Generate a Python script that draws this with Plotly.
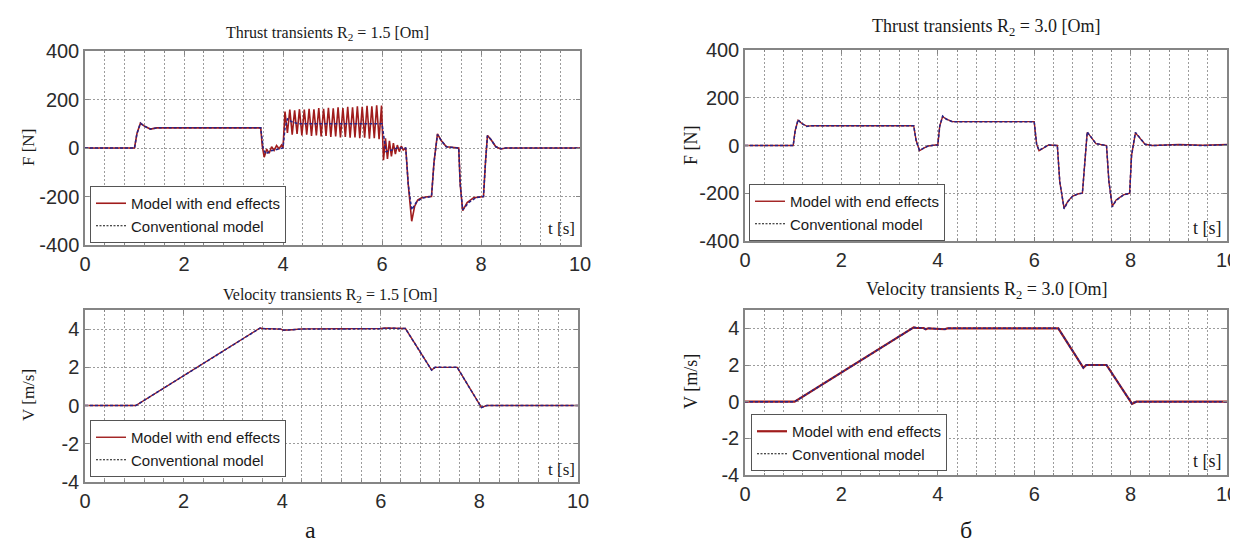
import plotly.graph_objects as go

# ---------------- data ----------------
x_ticks = [0, 2, 4, 6, 8, 10]
F_ticks = [-400, -200, 0, 200, 400]
F_tick_text = ["-400", "-200", "0", "200", "400"]
V_ticks = [-4, -2, 0, 2, 4]
V_tick_text = ["-4", "-2", "0", "2", "4"]

# Thrust, R2 = 1.5 Ohm  -- conventional model
t_F15_conv = [0, 1.0, 1.05, 1.12, 1.2, 1.32, 1.45, 3.55, 3.6, 3.65, 3.75, 3.9, 4.0, 4.04, 4.09,
              4.18, 4.3, 6.0, 6.04, 6.08, 6.2, 6.3, 6.48, 6.53, 6.6, 6.7, 6.8, 6.95, 7.0, 7.05, 7.12,
              7.2, 7.3, 7.55, 7.58, 7.63, 7.75, 7.9, 8.05, 8.09, 8.13, 8.2, 8.3, 8.4, 8.5, 10]
F15_conv = [0, 0, 60, 102, 90, 78, 83, 83, 0, -25, -12, -3, 0, 80, 120,
            108, 100, 100, 30, -15, -8, 0, 0, -150, -255, -222, -207, -200, -200, -60, 55,
            30, 5, 0, -150, -255, -225, -205, -200, -60, 50, 35, 5, -3, 0, 0]

# Thrust, R2 = 1.5 Ohm  -- model with end effects
t_F15_end = [0, 1.0, 1.05, 1.12, 1.2, 1.32, 1.45, 3.55, 3.58, 3.62, 3.67, 3.72, 3.77, 3.82, 3.87,
             3.92, 3.97, 4.0,
             4.040, 4.089, 4.1375, 4.186, 4.235, 4.284, 4.3325, 4.381, 4.430, 4.479, 4.5275,
             4.576, 4.625, 4.674, 4.7225, 4.771, 4.820, 4.869, 4.9175, 4.966, 5.015, 5.064,
             5.1125, 5.161, 5.210, 5.259, 5.3075, 5.356, 5.405, 5.454, 5.5025, 5.551, 5.600,
             5.649, 5.6975, 5.746, 5.795, 5.844, 5.8925, 5.941, 5.990,
             6.03, 6.07, 6.11, 6.15, 6.19, 6.23, 6.27, 6.31, 6.35, 6.39, 6.43, 6.48,
             6.53, 6.6, 6.66, 6.72, 6.8, 6.95, 7.0, 7.05, 7.12, 7.2, 7.3, 7.55, 7.58, 7.63, 7.72,
             7.85, 8.05, 8.09, 8.13, 8.2, 8.3, 8.4, 8.5, 10]
F15_end = [0, 0, 60, 103, 90, 78, 83, 83, 10, -38, -5, -22, 5, -10, 10,
           -3, 12, 0,
           150, 62, 158, 55, 155, 58, 160, 52, 158, 55, 162,
           50, 160, 52, 165, 48, 162, 50, 166, 46, 164, 48,
           168, 44, 165, 46, 170, 42, 168, 44, 172, 40, 170,
           42, 174, 38, 172, 40, 176, 36, 175,
           -50, 40, -45, 30, -35, 20, -25, 12, -15, 8, -8, 0,
           -150, -302, -240, -215, -205, -200, -200, -60, 58, 30, 5, 0, -150, -258, -225,
           -205, -200, -60, 52, 35, 5, -4, 0, 0]

# Thrust, R2 = 3.0 Ohm  -- conventional model
t_F30_conv = [0, 1.0, 1.04, 1.1, 1.18, 1.28, 1.4, 3.5, 3.55, 3.62, 3.7, 3.8, 3.95, 4.0, 4.04,
              4.1, 4.18, 4.3, 6.0, 6.05, 6.1, 6.2, 6.3, 6.48, 6.53, 6.62, 6.7, 6.8, 6.92, 7.0,
              7.05, 7.1, 7.18, 7.28, 7.5, 7.55, 7.62, 7.7, 7.85, 7.98, 8.02, 8.1, 8.18, 8.3,
              8.45, 9.0, 9.5, 10]
F30_conv = [0, 0, 60, 108, 92, 80, 83, 83, 20, -20, -12, -2, 2, 2, 80,
            123, 110, 100, 100, 5, -20, -10, 2, 0, -150, -265, -235, -212, -202, -200,
            -60, 57, 35, 8, 0, -150, -257, -230, -208, -200, -40, 55, 35, 5,
            0, 3, 0, 3]

# Thrust, R2 = 3.0 Ohm  -- model with end effects
t_F30_end = [0, 1.0, 1.04, 1.1, 1.18, 1.28, 1.4, 3.5, 3.55, 3.62, 3.7, 3.8, 3.95, 4.0, 4.04,
             4.1, 4.18, 4.3, 6.0, 6.05, 6.1, 6.2, 6.3, 6.48, 6.53, 6.62, 6.7, 6.8, 6.92, 7.0,
             7.05, 7.1, 7.18, 7.28, 7.5, 7.55, 7.62, 7.7, 7.85, 7.98, 8.02, 8.1, 8.18, 8.3,
             8.45, 9.0, 9.5, 10]
F30_end = [0, 0, 62, 106, 92, 81, 83, 83, 22, -22, -12, -2, 2, 2, 82,
           121, 110, 100, 100, 6, -22, -10, 2, 0, -152, -262, -233, -212, -202, -200,
           -58, 55, 35, 8, 0, -152, -255, -228, -207, -200, -42, 53, 34, 5,
           0, 4, 1, 4]

# Velocity, R2 = 1.5 Ohm
t_V15_conv = [0, 1.03, 3.55, 3.6, 3.98, 4.02, 4.2, 4.4, 6.0, 6.1, 6.5, 7.03, 7.1, 7.55, 8.04, 8.15, 10]
V15_conv = [0, 0, 4.05, 4.03, 4.0, 3.95, 3.97, 4.0, 4.02, 4.05, 4.03, 1.85, 2.0, 2.0, -0.1, 0, 0]
t_V15_end = [0, 1.03, 3.55, 3.6, 3.98, 4.02, 4.2, 4.4, 6.0, 6.1, 6.5, 7.03, 7.1, 7.55, 8.04, 8.15, 10]
V15_end = [0, 0, 4.06, 4.03, 4.0, 3.94, 3.97, 4.01, 4.03, 4.06, 4.03, 1.86, 2.0, 2.0, -0.1, 0, 0]

# Velocity, R2 = 3.0 Ohm
t_V30_conv = [0, 1.03, 3.5, 3.55, 3.7, 3.75, 3.8, 4.0, 4.08, 4.15, 4.2, 6.5, 7.02, 7.08, 7.5, 8.03, 8.12, 10]
V30_conv = [0, 0, 4.05, 4.03, 4.02, 3.95, 4.0, 3.98, 3.94, 3.95, 4.0, 4.0, 1.85, 2.0, 2.0, -0.12, 0, 0]
t_V30_end = [0, 1.03, 3.5, 3.55, 3.7, 3.75, 3.8, 4.0, 4.08, 4.15, 4.2, 6.5, 7.02, 7.08, 7.5, 8.03, 8.12, 10]
V30_end = [0, 0, 4.05, 4.03, 4.02, 3.95, 4.0, 3.98, 3.94, 3.95, 4.0, 4.0, 1.85, 2.0, 2.0, -0.12, 0, 0]

name_end = "Model with end effects"
name_conv = "Conventional model"

# ---------------- styling ----------------
W, H = 1238, 548
def fx(x):
    return x / W
def fy(y):
    return 1 - y / H

RED = "#a01c1c"
BLUE = "#24248a"
FRAME = "#858585"
GRID = "#9c9c9c"
TICKFONT = dict(family="Liberation Sans", size=20, color="#2b2b2b")
SERIF = "Liberation Serif"

fig = go.Figure()

panels = [
    # (suffix, xdom px, ydom px, t_end, y_end, t_conv, y_conv, legend, red width)
    ("", (77, 572), (43, 237), t_F15_end, F15_end, t_F15_conv, F15_conv, "legend", 1.6),
    ("2", (737, 1219), (42, 233), t_F30_end, F30_end, t_F30_conv, F30_conv, "legend2", 1.4),
    ("3", (77, 570), (302, 474), t_V15_end, V15_end, t_V15_conv, V15_conv, "legend3", 1.4),
    ("4", (737, 1219), (302, 467), t_V30_end, V30_end, t_V30_conv, V30_conv, "legend4", 2.2),
]

for i, (s, xd, yd, te, ye, tc, yc, lg, rw) in enumerate(panels):
    xa = "x" + s
    ya = "y" + s
    fig.add_trace(go.Scatter(x=te, y=ye, mode="lines", line=dict(color=RED, width=rw),
                             name=name_end, xaxis=xa, yaxis=ya, legend=lg, showlegend=False))
    fig.add_trace(go.Scatter(x=tc, y=yc, mode="lines",
                             line=dict(color=BLUE, width=1.5, dash="3px,2px"),
                             name=name_conv, xaxis=xa, yaxis=ya, legend=lg, showlegend=False))
    # legend samples
    fig.add_trace(go.Scatter(x=[None], y=[None], mode="lines", line=dict(color=RED, width=rw),
                             name=name_end, xaxis=xa, yaxis=ya, legend=lg, showlegend=True))
    fig.add_trace(go.Scatter(x=[None], y=[None], mode="lines",
                             line=dict(color="#111111", width=1.2, dash="2px,1.5px"),
                             name=name_conv, xaxis=xa, yaxis=ya, legend=lg, showlegend=True))

    common = dict(showline=True, linecolor=FRAME, linewidth=1.5, mirror="allticks",
                  ticks="inside", ticklen=4, tickcolor=FRAME, showgrid=True,
                  gridcolor=GRID, gridwidth=1, griddash="2px,2px", zeroline=False,
                  tickfont=TICKFONT, fixedrange=True, automargin=False)
    xkey = "xaxis" + s
    ykey = "yaxis" + s
    fig.update_layout(**{
        xkey: dict(domain=[fx(xd[0]), fx(xd[1])], anchor=ya, range=[0, 10],
                   tickmode="array", tickvals=x_ticks, ticktext=[str(v) for v in x_ticks],
                   minor=dict(tickmode="linear", tick0=0, dtick=0.4, showgrid=True,
                              gridcolor=GRID, gridwidth=1, griddash="2px,2px",
                              ticks="inside", ticklen=2, tickcolor=FRAME),
                   **common),
    })
    if i < 2:
        yaxis_cfg = dict(range=[-400, 400], tickvals=F_ticks, ticktext=F_tick_text)
    else:
        yaxis_cfg = dict(range=[-4, 5], tickvals=V_ticks, ticktext=V_tick_text)
    fig.update_layout(**{
        ykey: dict(domain=[fy(yd[1]), fy(yd[0])], anchor=xa, tickmode="array",
                   **yaxis_cfg, **common),
    })

legend_pos = {
    "legend": (82, 235),
    "legend2": (741, 233),
    "legend3": (82, 469),
    "legend4": (743, 463),
}
for lg, (lx, ly) in legend_pos.items():
    fig.update_layout(**{lg: dict(x=fx(lx), y=fy(ly), xanchor="left", yanchor="bottom",
                                  bgcolor="white", bordercolor="#555555", borderwidth=1,
                                  font=dict(family="Liberation Sans", size=15, color="#1a1a1a"),
                                  itemwidth=30, tracegroupgap=0,
                                  traceorder="normal")})

annotations = []
def add_text(text, x, y, size, angle=0, family=SERIF):
    annotations.append(dict(text=text, x=fx(x), y=fy(y), xref="paper", yref="paper",
                            showarrow=False, textangle=angle, xanchor="center", yanchor="middle",
                            font=dict(family=family, size=size, color="#1a1a1a")))

add_text("Thrust transients R<sub>2</sub> = 1.5 [Om]", 319, 25, 16)
add_text("Thrust transients R<sub>2</sub> = 3.0 [Om]", 978, 20, 18)
add_text("Velocity transients R<sub>2</sub> = 1.5 [Om]", 322, 287, 16)
add_text("Velocity transients R<sub>2</sub> = 3.0 [Om]", 978, 282, 18)
add_text("F [N]", 20, 140, 17, -90)
add_text("F [N]", 683, 137, 18, -90)
add_text("V [m/s]", 20, 387, 17, -90)
add_text("V [m/s]", 683, 374, 18, -90)
add_text("t [s]", 553, 220, 17)
add_text("t [s]", 1199, 220, 18)
add_text("t [s]", 553, 461, 17)
add_text("t [s]", 1199, 453, 18)
add_text("а", 302, 522, 24)
add_text("б", 958, 522, 24)

fig.update_layout(width=W, height=H, autosize=False,
                  margin=dict(l=0, r=0, t=0, b=0, autoexpand=False),
                  paper_bgcolor="white", plot_bgcolor="white",
                  annotations=annotations)

fig.write_html("out.html")
